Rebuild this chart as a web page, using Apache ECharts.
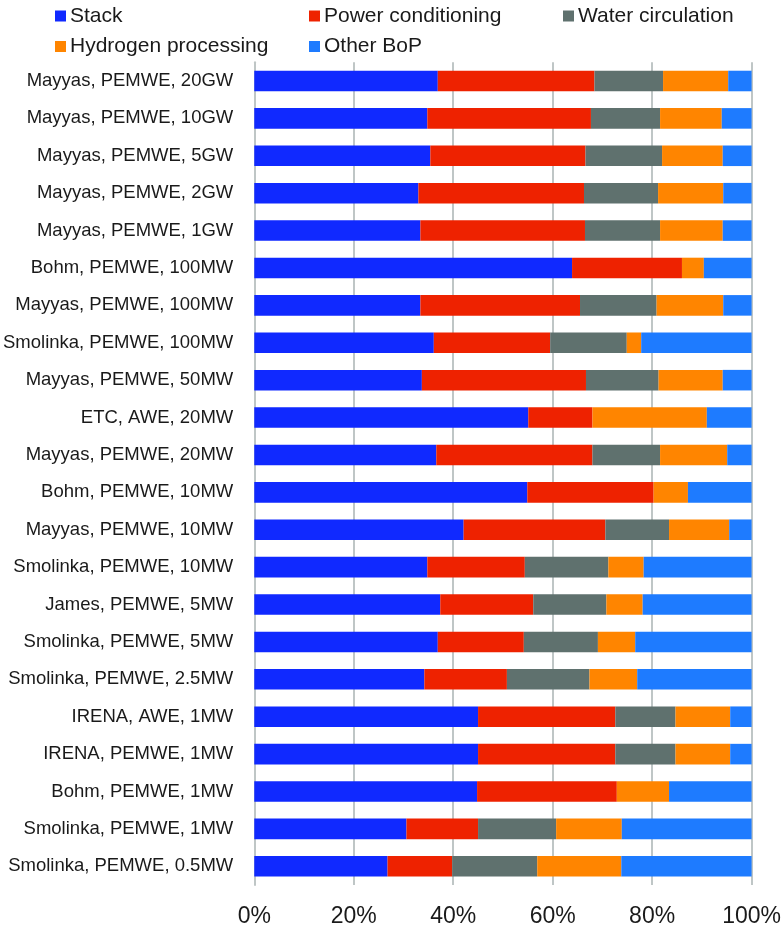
<!DOCTYPE html>
<html>
<head>
<meta charset="utf-8">
<script src="https://cdn.jsdelivr.net/npm/echarts@6/dist/echarts.min.js"></script>
<style>html,body{margin:0;padding:0;background:#fff;}#c{width:784px;height:928px;}</style>
</head>
<body>
<div id="c"></div>
<script>
const categories = [
  "Mayyas, PEMWE, 20GW","Mayyas, PEMWE, 10GW","Mayyas, PEMWE, 5GW","Mayyas, PEMWE, 2GW","Mayyas, PEMWE, 1GW",
  "Bohm, PEMWE, 100MW","Mayyas, PEMWE, 100MW","Smolinka, PEMWE, 100MW","Mayyas, PEMWE, 50MW","ETC, AWE, 20MW",
  "Mayyas, PEMWE, 20MW","Bohm, PEMWE, 10MW","Mayyas, PEMWE, 10MW","Smolinka, PEMWE, 10MW","James, PEMWE, 5MW",
  "Smolinka, PEMWE, 5MW","Smolinka, PEMWE, 2.5MW","IRENA, AWE, 1MW","IRENA, PEMWE, 1MW","Bohm, PEMWE, 1MW",
  "Smolinka, PEMWE, 1MW","Smolinka, PEMWE, 0.5MW"
];
const stack      = [36.9,34.8,35.4,33.0,33.4,63.9,33.4,36.1,33.7,55.1,36.6,54.9,42.1,34.8,37.4,36.9,34.2,45.0,45.0,44.8,30.6,26.8];
const power      = [31.5,32.9,31.2,33.3,33.1,22.1,32.1,23.4,33.0,12.9,31.4,25.4,28.5,19.6,18.7,17.3,16.6,27.6,27.6,28.1,14.4,13.0];
const water      = [13.8,13.9,15.4,14.9,15.1,0.0,15.4,15.4,14.6,0.0,13.6,0.0,12.8,16.8,14.7,14.9,16.6,12.1,12.1,0.0,15.7,17.1];
const hydrogen   = [13.1,12.4,12.2,13.1,12.6,4.4,13.4,2.9,12.9,23.0,13.5,6.9,12.1,7.1,7.3,7.5,9.6,11.0,11.0,10.5,13.2,16.9];
const otherBoP   = [4.7,6.0,5.8,5.7,5.8,9.6,5.7,22.2,5.8,9.0,4.9,12.8,4.5,21.7,21.9,23.4,23.0,4.3,4.3,16.6,26.1,26.2];
const seriesNames = ["Stack","Power conditioning","Water circulation","Hydrogen processing","Other BoP"];
const seriesData = [stack, power, water, hydrogen, otherBoP];
const colors = ["#1029FF","#EE2200","#5F716E","#FF8500","#1E7BFF"];

const chart = echarts.init(document.getElementById('c'));
const legendCommon = {
  orient: 'vertical', top: 0.5, itemWidth: 11, itemHeight: 11, itemGap: 9.5,
  icon: 'rect',
  textStyle: { fontFamily: 'Liberation Sans, Arial, sans-serif', fontSize: 21, color: '#1a1a1a', lineHeight: 21, padding: [0,0,0,-1] }
};
chart.setOption({
  animation: false,
  color: colors,
  textStyle: { fontFamily: 'Liberation Sans, Arial, sans-serif' },
  legend: [
    Object.assign({}, legendCommon, { left: 50, data: ["Stack","Hydrogen processing"] }),
    Object.assign({}, legendCommon, { left: 304, data: ["Power conditioning","Other BoP"] }),
    Object.assign({}, legendCommon, { left: 558, data: ["Water circulation"] })
  ],
  grid: { left: 253.5, right: 32, top: 62.3, bottom: 42.6, containLabel: false },
  xAxis: {
    type: 'value', min: 0, max: 100, interval: 20,
    axisLine: { show: false }, axisTick: { show: false },
    axisLabel: { formatter: '{value}%', fontSize: 23, color: '#1a1a1a', margin: 20 },
    splitLine: { show: true, lineStyle: { color: '#BFC6C6', width: 2 } }
  },
  yAxis: {
    type: 'category', data: categories, inverse: true,
    axisLine: { show: true, lineStyle: { color: '#BFC6C6', width: 2 } },
    axisTick: { show: false },
    axisLabel: { fontSize: 18.5, color: '#1a1a1a', margin: 21 }
  },
  series: seriesNames.map((n, i) => ({
    name: n, type: 'bar', stack: 'total', data: seriesData[i],
    barCategoryGap: '45%',
    itemStyle: { color: colors[i] }
  }))
});
</script>
</body>
</html>
